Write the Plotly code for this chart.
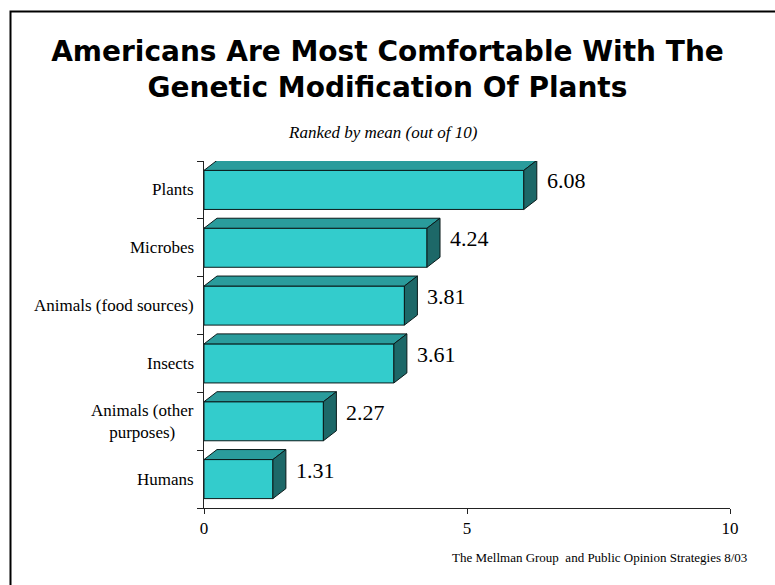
import plotly.graph_objects as go

# Survey results: mean comfort score (out of 10), top to bottom
categories = ["Plants", "Microbes", "Animals (food sources)", "Insects",
              "Animals (other<br>purposes)", "Humans"]
means = [6.08, 4.24, 3.81, 3.61, 2.27, 1.31]
x_ticks = [0, 5, 10]

# 3-D bar geometry in data units
BAR_W = 0.675      # thickness of the front face (category units)
DEPTH_X = 0.247    # receding depth along x (value units)
DEPTH_Y = 0.173    # receding depth along y (category units)

FRONT = "#33CCCC"
TOP = "#2A9C9C"
SIDE = "#1D6868"
EDGE = "#0a1a1a"

n = len(categories)
# Plants is drawn at the top, Humans at the bottom
pos = [n - 1 - i for i in range(n)]

fig = go.Figure()

# Front faces of the bars
fig.add_trace(go.Bar(
    x=means, y=pos, orientation="h", width=BAR_W,
    marker=dict(color=FRONT, line=dict(color=EDGE, width=1)),
    hoverinfo="skip", showlegend=False,
))

# Top and side faces, built from the same values
for v, p in zip(means, pos):
    top = p + BAR_W / 2
    bot = p - BAR_W / 2
    fig.add_trace(go.Scatter(
        x=[0, v, v + DEPTH_X, DEPTH_X, 0],
        y=[top, top, top + DEPTH_Y, top + DEPTH_Y, top],
        mode="lines", fill="toself", fillcolor=TOP,
        line=dict(color=EDGE, width=1), hoverinfo="skip", showlegend=False,
    ))
    fig.add_trace(go.Scatter(
        x=[v, v + DEPTH_X, v + DEPTH_X, v, v],
        y=[bot, bot + DEPTH_Y, top + DEPTH_Y, top, bot],
        mode="lines", fill="toself", fillcolor=SIDE,
        line=dict(color=EDGE, width=1), hoverinfo="skip", showlegend=False,
    ))

annotations = []
# Value labels beside each bar
for v, p in zip(means, pos):
    annotations.append(dict(
        x=v + DEPTH_X, y=p, xref="x", yref="y", text=f"{v:.2f}",
        showarrow=False, xanchor="left", yanchor="middle",
        xshift=8, yshift=9,
        font=dict(family="Liberation Serif", size=22, color="black"),
    ))

# Category labels (multi-line labels centred within their block)
for c, p in zip(categories, pos):
    annotations.append(dict(
        x=0, y=p, xref="paper", yref="y", text=c, showarrow=False,
        xanchor="right", yanchor="middle", align="center", xshift=-8,
        font=dict(family="Liberation Serif", size=17, color="black"),
    ))

PLOT_L, PLOT_R, PLOT_T, PLOT_B = 204, 730, 161, 508
W, H = 775, 585


def px_to_paper_x(px):
    return (px - PLOT_L) / (PLOT_R - PLOT_L)


def px_to_paper_y(py):
    return (PLOT_B - py) / (PLOT_B - PLOT_T)


annotations.append(dict(
    x=px_to_paper_x(383), y=px_to_paper_y(132), xref="paper", yref="paper",
    text="<i>Ranked by mean (out of 10)</i>", showarrow=False,
    xanchor="center", yanchor="middle",
    font=dict(family="Liberation Serif", size=17, color="black"),
))
annotations.append(dict(
    x=px_to_paper_x(749), y=px_to_paper_y(557), xref="paper", yref="paper",
    text="The Mellman Group  and Public Opinion Strategies 8/03",
    showarrow=False, xanchor="right", yanchor="middle",
    font=dict(family="Liberation Serif", size=13, color="black"),
))

fig.update_layout(
    width=W, height=H, autosize=False,
    margin=dict(l=PLOT_L, r=W - PLOT_R, t=PLOT_T, b=H - PLOT_B, pad=0),
    paper_bgcolor="white", plot_bgcolor="white",
    title=dict(
        text="Americans Are Most Comfortable With The<br>Genetic Modification Of Plants",
        x=0.5, xref="container", xanchor="center",
        y=1 - 61 / H, yref="container", yanchor="middle",
        font=dict(family="DejaVu Sans", size=28, color="black", weight="bold"),
    ),
    xaxis=dict(
        range=[0, 10], tickvals=x_ticks, ticktext=[str(t) for t in x_ticks],
        showline=True, linecolor="#222", linewidth=1,
        ticks="outside", ticklen=5, tickcolor="#222",
        showgrid=False, zeroline=False,
        tickfont=dict(family="Liberation Serif", size=17, color="black"),
    ),
    yaxis=dict(
        range=[-0.5, n - 0.5], tickvals=pos, ticktext=[""] * n,
        showline=True, linecolor="#222", linewidth=1,
        ticks="", showgrid=False, zeroline=False,
        minor=dict(tickvals=[k - 0.5 for k in range(n + 1)],
                   ticks="outside", ticklen=6, tickcolor="#222", showgrid=False),
    ),
    annotations=annotations,
    shapes=[dict(
        type="rect", xref="paper", yref="paper",
        x0=px_to_paper_x(10.5), y0=px_to_paper_y(700),
        x1=px_to_paper_x(900), y1=px_to_paper_y(11.5),
        line=dict(color="black", width=2), fillcolor="rgba(0,0,0,0)",
        layer="below",
    )],
    showlegend=False,
)

fig.write_html("out.html")
